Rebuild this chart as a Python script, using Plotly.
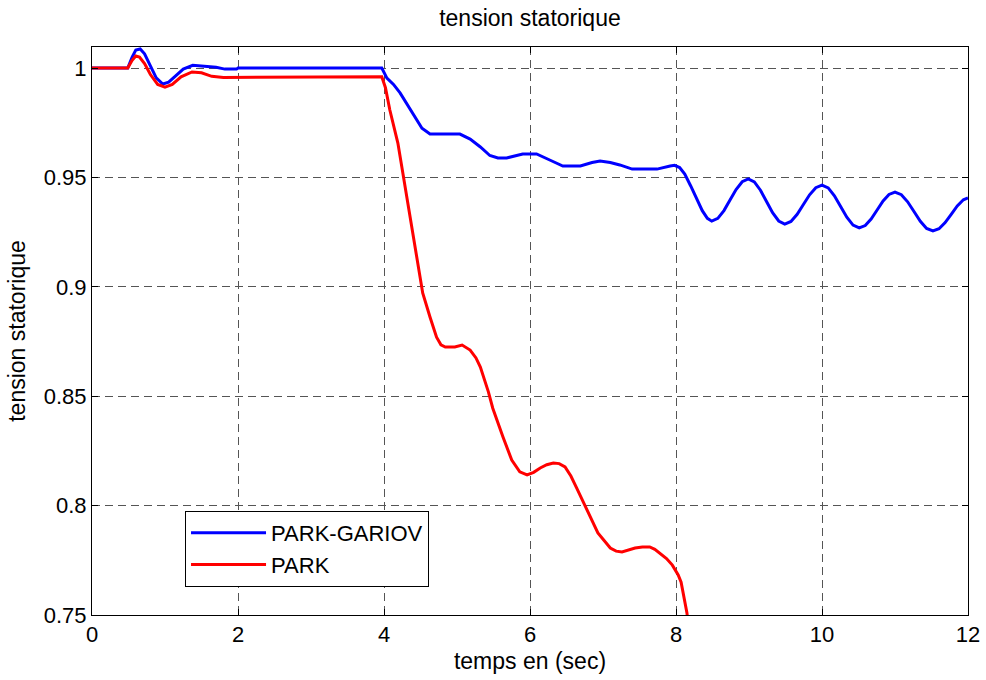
import plotly.graph_objects as go

# PARK-GARIOV (blue)
t_gariov = [0, 0.49, 0.55, 0.60, 0.66, 0.72, 0.80, 0.88, 0.97, 1.05, 1.15, 1.25, 1.38, 1.55, 1.70, 1.82, 1.98, 2.0,
            3.97, 4.04, 4.13, 4.22, 4.31, 4.40, 4.52, 4.63, 5.04, 5.18, 5.32, 5.45, 5.56, 5.68, 5.80, 5.90, 6.09,
            6.20, 6.30, 6.45, 6.69, 6.85, 6.96, 7.10, 7.23, 7.40, 7.74, 7.92, 7.98, 8.05, 8.12, 8.20, 8.29, 8.36,
            8.43, 8.49, 8.573, 8.657, 8.74, 8.823, 8.907, 8.99, 9.073, 9.157, 9.24, 9.323, 9.407, 9.49, 9.575,
            9.66, 9.745, 9.83, 9.915, 10.0, 10.085, 10.17, 10.255, 10.34, 10.425, 10.51, 10.592, 10.673, 10.755,
            10.837, 10.918, 11.0, 11.087, 11.173, 11.26, 11.347, 11.433, 11.52, 11.603, 11.687, 11.77, 11.853,
            11.937, 12.0]
v_gariov = [1.0, 1.0, 1.005, 1.0082, 1.0087, 1.0065, 1.0010, 0.9955, 0.9927, 0.9935, 0.9965, 0.9995, 1.0012, 1.0008,
            1.0003, 0.9995, 0.9995, 1.0,
            1.0, 0.9954, 0.9925, 0.9886, 0.9838, 0.9785, 0.9725, 0.9698, 0.9698, 0.9675, 0.9639, 0.9600, 0.9589,
            0.9589, 0.9598, 0.9607, 0.9607, 0.9592, 0.9575, 0.9552, 0.9552, 0.9568, 0.9575, 0.9568, 0.9557, 0.9538,
            0.9538, 0.9552, 0.9555, 0.9545, 0.9515, 0.9462, 0.9397, 0.9348, 0.9313, 0.9300, 0.93129, 0.93483,
            0.93965, 0.94448, 0.94801, 0.9493, 0.94792, 0.94415, 0.9390, 0.93385, 0.93008, 0.9287, 0.92989,
            0.93315, 0.9376, 0.94205, 0.94531, 0.9465, 0.94519, 0.9416, 0.9367, 0.9318, 0.92821, 0.9269, 0.9280,
            0.9310, 0.9351, 0.9392, 0.9422, 0.9433, 0.94211, 0.93885, 0.9344, 0.92995, 0.92669, 0.9255, 0.92652,
            0.92933, 0.93315, 0.93698, 0.93978, 0.9406]

# PARK (red)
t_park = [0, 0.49, 0.55, 0.60, 0.65, 0.72, 0.80, 0.90, 1.0, 1.10, 1.22, 1.37, 1.50, 1.64, 1.80, 2.0, 3.97, 4.02,
          4.08, 4.19, 4.26, 4.33, 4.40, 4.47, 4.53, 4.63, 4.72, 4.78, 4.84, 4.97, 5.07, 5.18, 5.26, 5.32, 5.36,
          5.43, 5.49, 5.56, 5.63, 5.75, 5.86, 5.96, 6.05, 6.14, 6.23, 6.32, 6.40, 6.48, 6.56, 6.64, 6.78, 6.93,
          7.10, 7.18, 7.26, 7.35, 7.44, 7.54, 7.64, 7.71, 7.78, 7.87, 7.95, 8.03, 8.07, 8.10, 8.15, 8.17]
v_park = [1.0, 1.0, 1.0035, 1.0055, 1.0050, 1.0020, 0.9970, 0.9925, 0.9913, 0.9925, 0.9960, 0.9982, 0.9978, 0.9962,
          0.9957, 0.9957, 0.9960, 0.9910, 0.9808, 0.9657, 0.952, 0.937, 0.9228, 0.909, 0.8972, 0.8862, 0.877,
          0.8735, 0.8725, 0.8725, 0.8734, 0.8711, 0.8675, 0.8633, 0.8595, 0.852, 0.8445, 0.8375, 0.8314, 0.8208,
          0.8154, 0.8140, 0.8152, 0.8172, 0.8187, 0.8195, 0.8192, 0.8177, 0.8135, 0.8080, 0.7980, 0.7875, 0.7806,
          0.7792, 0.7788, 0.7797, 0.7806, 0.7811, 0.7811, 0.7800, 0.7783, 0.7758, 0.7728, 0.7683, 0.7650, 0.760,
          0.7509, 0.745]

x_ticks = [0, 2, 4, 6, 8, 10, 12]
y_ticks = [0.75, 0.8, 0.85, 0.9, 0.95, 1.0]
y_tick_labels = ["0.75", "0.8", "0.85", "0.9", "0.95", "1"]

FONT = "Liberation Sans, Arial, sans-serif"

fig = go.Figure()
fig.add_trace(go.Scatter(x=t_gariov, y=v_gariov, mode="lines", name="PARK-GARIOV",
                         line=dict(color="#0000FF", width=3)))
fig.add_trace(go.Scatter(x=t_park, y=v_park, mode="lines", name="PARK",
                         line=dict(color="#FF0000", width=3)))

axis_common = dict(showline=True, linecolor="black", linewidth=1, mirror="ticks",
                   ticks="inside", ticklen=6, tickcolor="black", automargin=False,
                   showgrid=True, gridcolor="#555555", gridwidth=1, griddash="8px,5px",
                   zeroline=False, tickfont=dict(family=FONT, size=22, color="black"))

fig.update_xaxes(range=[0, 12], tickvals=x_ticks,
                 title=dict(text="temps en (sec)", font=dict(family=FONT, size=23, color="black"), standoff=6),
                 **axis_common)
fig.update_yaxes(range=[0.75, 1.0096], tickvals=y_ticks, ticktext=y_tick_labels,
                 title=dict(text="tension statorique", font=dict(family=FONT, size=23, color="black"), standoff=11),
                 **axis_common)

fig.update_layout(
    width=986, height=680,
    margin=dict(l=92, r=18, t=47, b=65, autoexpand=False),
    paper_bgcolor="white", plot_bgcolor="white",
    font=dict(family=FONT, color="black"),
    title=dict(text="tension statorique", x=0.5375, xanchor="center", y=1 - 18 / 680, yref="container",
               yanchor="middle", font=dict(family=FONT, size=23, color="black")),
    legend=dict(x=0.1062, y=0.1831, xanchor="left", yanchor="top", bgcolor="white",
                bordercolor="black", borderwidth=1, font=dict(family=FONT, size=22, color="black"),
                itemwidth=75),
    showlegend=True,
)

fig.write_html("out.html")
